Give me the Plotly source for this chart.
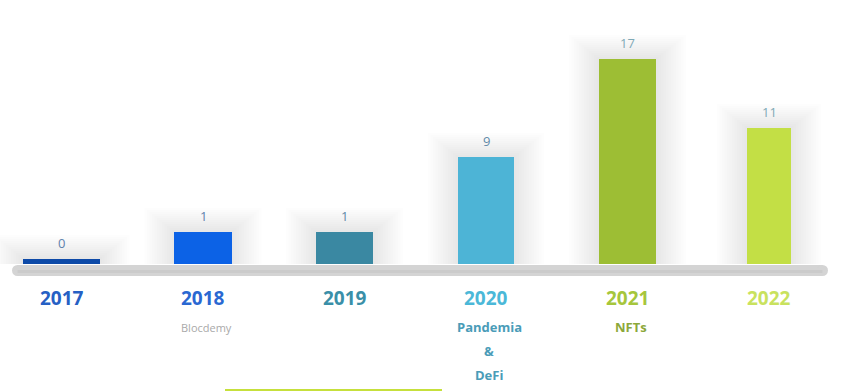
import plotly.graph_objects as go

# ---- data ----
years = ["2017", "2018", "2019", "2020", "2021", "2022"]
counts = [0, 1, 1, 9, 17, 11]                      # value labels shown above bars
drawn_heights = [0.42, 2.65, 2.65, 8.87, 17.0, 11.28]  # bar heights as drawn in the picture
notes = [[], ["Blocdemy"], [], ["Pandemia", "&amp;", "DeFi"], ["NFTs"], []]

# ---- style ----
bar_colors = ["#0d4aa8", "#0c62e6", "#3a88a2", "#4db4d6", "#9dbe34", "#c3df45"]
year_colors = ["#2660c4", "#2a68d2", "#3a8fa8", "#4bb8d8", "#a6c63c", "#c9e25e"]
note_colors = ["#aaaaaa", "#a9a9a9", "#aaaaaa", "#4a9cb8", "#8ca83a", "#aaaaaa"]
note_sizes = [11, 11, 11, 13, 13, 11]
note_bold = [False, False, False, True, True, False]
value_colors = ["#5f82ad", "#5f82ad", "#5f8aa8", "#5f8aa8", "#7fa9b6", "#7fa9b6"]
bar_widths = [0.544, 0.403, 0.403, 0.396, 0.403, 0.311]

W, H = 848, 391
PX_PER_UNIT = 12.06
BASE_PX = 264
X0_PX, STEP_PX = 61.5, 141.5

yr = [-(H - BASE_PX) / PX_PER_UNIT, BASE_PX / PX_PER_UNIT]
xr = [-X0_PX / STEP_PX, (W - X0_PX) / STEP_PX]
xpos = list(range(len(years)))

fig = go.Figure()
fig.add_trace(go.Bar(
    x=xpos, y=drawn_heights, width=bar_widths,
    marker=dict(color=bar_colors, line=dict(width=0)),
    hoverinfo="skip",
))

shapes = []
# soft glow around bars
for i, (h, w) in enumerate(zip(drawn_heights, bar_widths)):
    for k in range(1, 13):
        pad = k * 2.5 / STEP_PX
        padv = k * 2.0 / PX_PER_UNIT
        shapes.append(dict(
            type="rect", xref="x", yref="y", layer="below",
            x0=i - w / 2 - pad, x1=i + w / 2 + pad, y0=0, y1=h + padv,
            fillcolor="rgba(0,0,0,0.006)", line=dict(width=0),
        ))

def py(px):
    return 1 - px / H

def pxx(px):
    return px / W

# grey rounded baseline
top, bot = 265, 276
r = (bot - top) / 2
shapes.append(dict(type="rect", xref="paper", yref="paper", layer="above",
                   x0=pxx(12 + r), x1=pxx(828 - r), y0=py(bot), y1=py(top),
                   fillcolor="#d4d4d4", line=dict(width=0)))
for cx in (12 + r, 828 - r):
    shapes.append(dict(type="circle", xref="paper", yref="paper", layer="above",
                       x0=pxx(cx - r), x1=pxx(cx + r), y0=py(bot), y1=py(top),
                       fillcolor="#d4d4d4", line=dict(width=0)))
shapes.append(dict(type="rect", xref="paper", yref="paper", layer="above",
                   x0=pxx(12 + r), x1=pxx(828 - r), y0=py(bot - 3), y1=py(bot - 6),
                   fillcolor="#cbcbcb", line=dict(width=0)))
# bottom partial accent line
shapes.append(dict(type="rect", xref="paper", yref="paper", layer="above",
                   x0=pxx(225), x1=pxx(442), y0=py(391), y1=py(389),
                   fillcolor="#c6e03c", line=dict(width=0)))

annotations = []
for i, yv in enumerate(years):
    annotations.append(dict(
        x=i, y=drawn_heights[i], xref="x", yref="y", text=str(counts[i]),
        showarrow=False, yanchor="middle", yshift=16,
        font=dict(family="Open Sans", size=13, color=value_colors[i]),
    ))
    annotations.append(dict(
        x=i, y=py(298), xref="x", yref="paper", text=f"<b>{yv}</b>",
        showarrow=False, yanchor="middle",
        font=dict(family="Open Sans", size=19, color=year_colors[i]),
    ))
    for j, line in enumerate(notes[i]):
        txt = f"<b>{line}</b>" if note_bold[i] else line
        annotations.append(dict(
            x=i, y=py(327 + 24 * j), xref="x", yref="paper", text=txt,
            showarrow=False, yanchor="middle", align="center", xshift=3,
            font=dict(family="Open Sans", size=note_sizes[i], color=note_colors[i]),
        ))

fig.update_layout(
    width=W, height=H, margin=dict(l=0, r=0, t=0, b=0),
    paper_bgcolor="white", plot_bgcolor="white",
    showlegend=False, bargap=0,
    xaxis=dict(range=xr, visible=False, fixedrange=True),
    yaxis=dict(range=yr, visible=False, fixedrange=True),
    shapes=shapes, annotations=annotations,
)

fig.write_html("out.html", config={"displayModeBar": False},
               post_script="document.body.style.margin='0';")
